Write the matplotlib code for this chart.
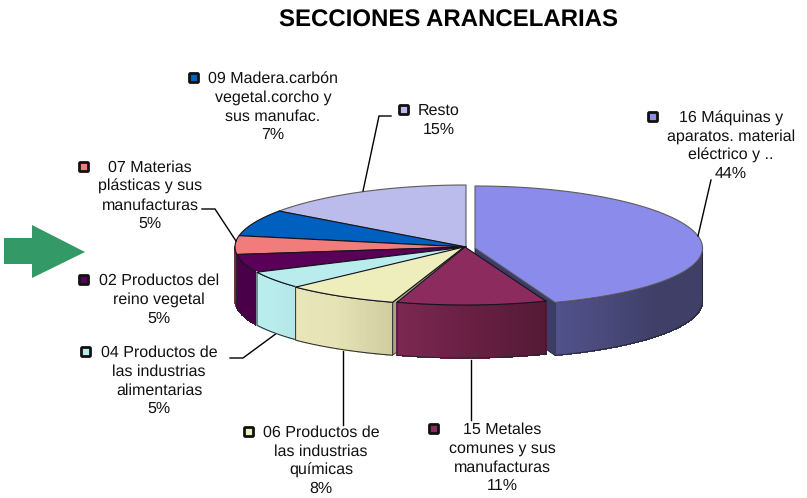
import numpy as np
import matplotlib
matplotlib.use("Agg")
import matplotlib.pyplot as plt
from matplotlib.colors import to_rgb
from matplotlib.patches import Polygon, FancyBboxPatch

plt.rcParams['font.family'] = ['Liberation Sans', 'DejaVu Sans']
plt.rcParams['text.hinting'] = 'no_hinting'
plt.rcParams['text.hinting_factor'] = 1

# chart data, clockwise from 12 o'clock
names = ["16 Máquinas y\naparatos. material\neléctrico y ..",
         "15 Metales\ncomunes y sus\nmanufacturas",
         "06 Productos de\nlas industrias\nquímicas",
         "04 Productos de\nlas industrias\nalimentarias",
         "02 Productos del\nreino vegetal",
         "07 Materias\nplásticas y sus\nmanufacturas",
         "09 Madera.carbón\nvegetal.corcho y\nsus manufac.",
         "Resto"]
values = [44, 11, 8, 5, 5, 5, 7, 15]

top_colors = ["#8B8BEC", "#8C2C5E", "#EEEDBC", "#B9ECEC", "#5A0059", "#F27C7C", "#0060C0", "#BCBCEC"]
wall_colors = [["#52528C", "#3F3F68", "#3F3F68"], ["#7C2850", "#6A2044", "#541A36"],
               ["#E8E6BA", "#E6E4B6", "#D0CEA0"], ["#B9ECEC", "#B9ECEC", "#B4E6E6"],
               ["#4A0049", "#4A0049", "#4A0049"], ["#A04848", "#A04848", "#A04848"],
               ["#004C98", "#004C98", "#004C98"], ["#9898C0", "#9898C0", "#9898C0"]]
# shift and size of each slice in pixels
shift = [(9, 1), (-1, 0), (-2, 0), (0, 0), (0, 0), (0, 0), (0, 0), (0, 0)]
scale = [0.985, 0.95, 1, 1, 1, 1, 1, 1]
big_slice_overrun = 1  # degrees, the big slice runs a bit further round in the picture

cx, cy, rx, depth = 466, 247, 231, 53

# text centre x, first line y, key x, key y
label_pos = [(731, 118, 653, 117), (502, 430, 434, 429), (321, 433, 249, 432), (159, 353, 86, 352),
             (159, 281, 84, 280), (150, 168, 84, 167), (273, 79, 194, 78), (439, 111, 404, 110)]
leaders = [[(711, 180), (698, 236)],
           [(471, 360), (471, 420)],
           [(343, 350), (343, 425)],
           [(230, 358), (243, 358), (277, 333)],
           [(202, 209), (215, 209), (236, 241)],
           [(391, 116), (379, 116), (363, 191)]]
arrow_x = [4, 32, 32, 85, 32, 32, 4]
arrow_y = [238, 238, 225, 252, 278, 264, 264]


def rim(t, i):
    # point on the slice rim, t is degrees clockwise from the top
    r = np.radians(t)
    ry = 60 + 2 * np.cos(r)
    x = cx + shift[i][0] + rx * scale[i] * np.sin(r)
    y = cy + shift[i][1] - ry * np.cos(r)
    return np.column_stack([x, y])


def wall_color(stops, f):
    rgb = np.array([to_rgb(c) for c in stops])
    return [np.interp(f, [0, 0.45, 1], rgb[:, k]) for k in range(3)]


fig = plt.figure(figsize=(8.07, 4.98), dpi=100)
ax = fig.add_axes([0, 0, 1, 1])
ax.set_xlim(0, 807)
ax.set_ylim(498, 0)
ax.axis('off')

edges = 3.6 * np.concatenate([[0], np.cumsum(values)])
draw_order = [7, 6, 5, 4, 3, 2, 0, 1]

for i in draw_order:
    a, b = edges[i], edges[i + 1]
    if i == 0:
        b += big_slice_overrun
    z = 2 + draw_order.index(i)
    apex = np.array([[cx + shift[i][0], cy + shift[i][1]]])
    down = np.array([0, depth])

    # cut faces that show through the gaps
    if i == 2:
        p = rim(a, i)
        ax.add_patch(Polygon(np.vstack([apex, p, p + down, apex + down]), fc="#A8A67C", ec="#33331F", lw=0.6, zorder=z))
    if i == 0:
        p = rim(b, i)
        ax.add_patch(Polygon(np.vstack([apex, p, p + down, apex + down]), fc="#3C3C66", ec="#1C1C33", lw=0.6, zorder=z))

    # outer wall, front half of the rim only
    lo, hi = max(a, 90), min(b, 270)
    if hi > lo:
        steps = np.linspace(lo, hi, int(hi - lo) + 2)
        for s0, s1 in zip(steps[:-1], steps[1:]):
            c = wall_color(wall_colors[i], (hi - s0) / (hi - lo))
            seg = rim(np.array([s0, s1]), i)
            ax.add_patch(Polygon(np.vstack([seg, seg[::-1] + down]), fc=c, ec=c, lw=0.5, antialiased=False, zorder=z))
        arc = rim(np.linspace(lo, hi, 80), i)
        outline = np.vstack([arc, arc[::-1] + down, arc[:1]])
        ax.plot(outline[:, 0], outline[:, 1], color="#26262E", lw=0.7, zorder=z)

    # top face
    arc = rim(np.linspace(a, b, 120), i)
    ax.add_patch(Polygon(np.vstack([apex, arc]), fc=top_colors[i],
                         ec="#5C5C5C" if i in (0, 7) else "#14141E", lw=0.8, joinstyle='round',
                         zorder=z + 0.5))

# title
ax.text(449, 21, "SECCIONES ARANCELARIAS", ha='center', va='center', fontsize=17.2, fontweight='bold', color='black')

# labels with their colour keys
for name, v, pos, col in zip(names, values, label_pos, top_colors):
    tx, ty, kx, ky = pos
    lines = name.split("\n") + [f"{v}%"]
    for n, line in enumerate(lines):
        ax.text(tx, ty + n * 18.7, line, ha='center', va='center', fontsize=11.5, color='#111111', zorder=20)
    ax.add_patch(FancyBboxPatch((kx - 3.5, ky - 3.5), 7, 7, boxstyle="round,pad=1", fc=col, ec='#111111', lw=2, zorder=20))

# leader lines
for pts in leaders:
    xy = np.array(pts)
    ax.plot(xy[:, 0], xy[:, 1], color='black', lw=1, zorder=1 if pts[-1][1] > 300 else 19, solid_joinstyle='miter')

ax.fill(arrow_x, arrow_y, color="#339966", lw=0, zorder=5)

fig.savefig("out.png", dpi=100)
